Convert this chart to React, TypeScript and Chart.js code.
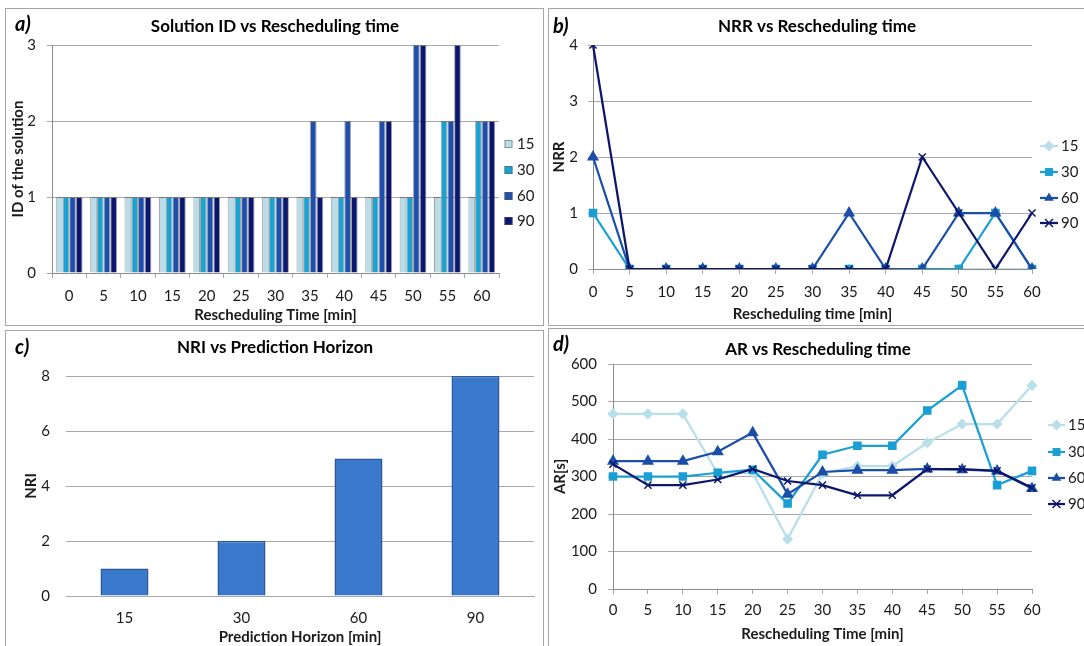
import React, { useEffect, useRef } from 'react';
import { Chart, registerables } from 'chart.js';
Chart.register(...registerables);

// ---------- data ----------
const timeLabels = ['0', '5', '10', '15', '20', '25', '30', '35', '40', '45', '50', '55', '60'];
const horizonLabels = ['15', '30', '60', '90'];

const solutionId15 = [1, 1, 1, 1, 1, 1, 1, 1, 1, 1, 1, 1, 1];
const solutionId30 = [1, 1, 1, 1, 1, 1, 1, 1, 1, 1, 1, 2, 2];
const solutionId60 = [1, 1, 1, 1, 1, 1, 1, 2, 2, 2, 3, 2, 2];
const solutionId90 = [1, 1, 1, 1, 1, 1, 1, 1, 1, 2, 3, 3, 2];

const nrr15 = [null, 0, 0, 0, 0, 0, 0, 0, 0, 0, 0, 0, 0];
const nrr30 = [1, 0, 0, 0, 0, 0, 0, 0, 0, 0, 0, 1, 0];
const nrr60 = [2, 0, 0, 0, 0, 0, 0, 1, 0, 0, 1, 1, 0];
const nrr90 = [4, 0, 0, 0, 0, 0, 0, 0, 0, 2, 1, 0, 1];

const nriValues = [1, 2, 5, 8];

const ar15 = [467, 467, 467, 308, 310, 133, 308, 328, 328, 390, 440, 440, 543];
const ar30 = [300, 300, 300, 310, 318, 228, 358, 382, 382, 476, 543, 277, 315];
const ar60 = [341, 341, 341, 366, 417, 253, 312, 317, 317, 320, 318, 315, 268];
const ar90 = [333, 277, 277, 292, 320, 288, 277, 250, 250, 320, 320, 315, 270];

// ---------- styles ----------
const FONT = 'Lato, "Open Sans", "DejaVu Sans", sans-serif';
const GRID = '#a8a8a8';
const AXIS = '#8a8a8a';
const TXT = '#1a1a1a';
const BAR_COL = ['#b8dde8', '#1aa2d2', '#1e4fae', '#0a1670'];
const LINE_COL = ['#b9dfea', '#1a9fd4', '#1b4ea8', '#0c176b'];
const MARKERS = ['rectRot', 'rect', 'triangle', 'crossRot'];

const tickFont = { family: FONT, size: 15 };
const axisTitleFont = { family: FONT, size: 15, weight: 'bold' as const };
const titleFont = { family: FONT, size: 17, weight: 'bold' as const };

function drawMarker(ctx: CanvasRenderingContext2D, style: string, x: number, y: number, r: number, color: string) {
  ctx.save();
  ctx.fillStyle = color;
  ctx.strokeStyle = color;
  ctx.lineWidth = 1.5;
  ctx.beginPath();
  if (style === 'rectRot') {
    ctx.moveTo(x, y - r); ctx.lineTo(x + r, y); ctx.lineTo(x, y + r); ctx.lineTo(x - r, y); ctx.closePath(); ctx.fill();
  } else if (style === 'rect') {
    const s = r * 0.72;
    ctx.rect(x - s, y - s, 2 * s, 2 * s); ctx.fill();
  } else if (style === 'triangle') {
    ctx.moveTo(x, y - r); ctx.lineTo(x + r * 0.87, y + r * 0.5); ctx.lineTo(x - r * 0.87, y + r * 0.5); ctx.closePath(); ctx.fill();
  } else {
    const s = r * 0.72;
    ctx.moveTo(x - s, y - s); ctx.lineTo(x + s, y + s); ctx.moveTo(x + s, y - s); ctx.lineTo(x - s, y + s); ctx.stroke();
  }
  ctx.restore();
}

type LegendCfg = {
  kind: 'box' | 'line';
  labels: string[];
  colors: string[];
  ys: number[];
  x0: number;
  x1: number;
  textX: number;
};

function makeLegend(cfg: LegendCfg) {
  return {
    id: 'panelLegend',
    afterDraw(chart: any) {
      const ctx: CanvasRenderingContext2D = chart.ctx;
      ctx.save();
      ctx.font = `15px ${FONT}`;
      ctx.textBaseline = 'middle';
      ctx.textAlign = 'left';
      cfg.labels.forEach((lab, i) => {
        const y = cfg.ys[i];
        if (cfg.kind === 'box') {
          ctx.fillStyle = cfg.colors[i];
          ctx.fillRect(cfg.x0, y - 4, 8, 8);
          ctx.strokeStyle = 'rgba(90,90,90,0.55)';
          ctx.lineWidth = 1;
          ctx.strokeRect(cfg.x0 + 0.5, y - 3.5, 7, 7);
        } else {
          ctx.strokeStyle = cfg.colors[i];
          ctx.lineWidth = 2.25;
          ctx.beginPath();
          ctx.moveTo(cfg.x0, y);
          ctx.lineTo(cfg.x1, y);
          ctx.stroke();
          drawMarker(ctx, MARKERS[i], (cfg.x0 + cfg.x1) / 2, y, 5.5, cfg.colors[i]);
        }
        ctx.fillStyle = TXT;
        ctx.fillText(lab, cfg.textX, y);
      });
      ctx.restore();
    },
  };
}

// centre the chart title on the whole panel (as in the spreadsheet figure)
function centerTitle(cx: number) {
  return {
    id: 'centerTitle',
    afterLayout(chart: any) {
      const tb = chart.titleBlock;
      if (!tb) return;
      const half = (tb.right - tb.left) / 2;
      tb.left = cx - half;
      tb.right = cx + half;
    },
  };
}

function fixY(width: number) {
  return (s: any) => { s.width = width; s.paddingTop = 0; s.paddingBottom = 0; };
}
function fixX(height: number) {
  return (s: any) => { s.height = height; s.paddingLeft = 0; s.paddingRight = 0; };
}

type PanelGeom = {
  W: number; H: number;
  pl: number; pr: number; pb: number;
  yw: number; xh: number;
  tTop: number; tBottom: number;
  xPad: number; yPad: number;
  titleX: number;
};

function baseOptions(g: PanelGeom, title: string) {
  return {
    responsive: false,
    maintainAspectRatio: false,
    animation: false as const,
    devicePixelRatio: 1,
    layout: { padding: { left: g.pl, right: g.pr, top: 0, bottom: g.pb } },
    plugins: {
      legend: { display: false },
      tooltip: { enabled: false },
      title: {
        display: true,
        text: title,
        color: '#000',
        font: titleFont,
        padding: { top: g.tTop, bottom: g.tBottom },
      },
    },
  };
}

function lineDatasets(series: (number | null)[][]) {
  return series.map((d, i) => ({
    label: horizonLabels[i],
    data: d,
    borderColor: LINE_COL[i],
    backgroundColor: LINE_COL[i],
    borderWidth: 2.25,
    pointStyle: MARKERS[i],
    pointRadius: i === 0 ? 4.5 : i === 1 ? 5 : i === 2 ? 5.5 : 5,
    pointBorderWidth: 1.5,
    pointBorderColor: LINE_COL[i],
    pointBackgroundColor: LINE_COL[i],
    tension: 0,
    order: 3 - i,
  }));
}

// ---------- chart builders ----------
function buildA(canvas: HTMLCanvasElement, g: PanelGeom) {
  const series = [solutionId15, solutionId30, solutionId60, solutionId90];
  return new Chart(canvas, {
    type: 'bar',
    data: {
      labels: timeLabels,
      datasets: series.map((d, i) => ({
        label: horizonLabels[i],
        data: d,
        backgroundColor: BAR_COL[i],
        borderColor: 'rgba(70,70,70,0.5)',
        borderWidth: 1,
        categoryPercentage: 0.78,
        barPercentage: 1.0,
      })),
    },
    options: {
      ...baseOptions(g, 'Solution ID vs Rescheduling time'),
      scales: {
        x: {
          grid: { display: true, drawOnChartArea: false, drawTicks: true, tickLength: 5, color: GRID, offset: true },
          border: { display: true, color: AXIS },
          ticks: { font: tickFont, color: TXT, padding: g.xPad, maxRotation: 0, autoSkip: false },
          title: { display: true, text: 'Rescheduling Time [min]', font: axisTitleFont, color: TXT, padding: 0 },
          afterFit: fixX(g.xh),
        },
        y: {
          min: 0, max: 3,
          grid: { color: GRID, drawTicks: true, tickLength: 5 },
          border: { display: true, color: AXIS },
          ticks: { stepSize: 1, font: tickFont, color: TXT, padding: g.yPad },
          title: { display: true, text: 'ID of the solution', font: axisTitleFont, color: TXT, padding: 0 },
          afterFit: fixY(g.yw),
        },
      },
    } as any,
    plugins: [centerTitle(g.titleX), makeLegend({
      kind: 'box', labels: horizonLabels, colors: BAR_COL,
      ys: [135, 161, 187, 212], x0: 498.5, x1: 506.5, textX: 511,
    })],
  });
}

function buildLine(canvas: HTMLCanvasElement, g: PanelGeom, opts: {
  series: (number | null)[][]; title: string; xTitle: string; yTitle: string;
  max: number; step: number; legendYs: number[]; lx0: number; lx1: number; ltx: number;
}) {
  return new Chart(canvas, {
    type: 'line',
    data: { labels: timeLabels, datasets: lineDatasets(opts.series) as any },
    options: {
      ...baseOptions(g, opts.title),
      scales: {
        x: {
          offset: false,
          grid: { display: true, drawOnChartArea: false, drawTicks: true, tickLength: 5, color: GRID },
          border: { display: true, color: AXIS },
          ticks: { font: tickFont, color: TXT, padding: g.xPad, maxRotation: 0, autoSkip: false },
          title: { display: true, text: opts.xTitle, font: axisTitleFont, color: TXT, padding: 0 },
          afterFit: fixX(g.xh),
        },
        y: {
          min: 0, max: opts.max,
          grid: { color: GRID, drawTicks: true, tickLength: 5 },
          border: { display: true, color: AXIS },
          ticks: { stepSize: opts.step, font: tickFont, color: TXT, padding: g.yPad },
          title: { display: true, text: opts.yTitle, font: axisTitleFont, color: TXT, padding: 0 },
          afterFit: fixY(g.yw),
        },
      },
    } as any,
    plugins: [centerTitle(g.titleX), makeLegend({
      kind: 'line', labels: horizonLabels, colors: LINE_COL,
      ys: opts.legendYs, x0: opts.lx0, x1: opts.lx1, textX: opts.ltx,
    })],
  });
}

function buildC(canvas: HTMLCanvasElement, g: PanelGeom) {
  return new Chart(canvas, {
    type: 'bar',
    data: {
      labels: horizonLabels,
      datasets: [{
        label: 'NRI',
        data: nriValues,
        backgroundColor: '#3a78cc',
        borderColor: '#2a5894',
        borderWidth: 1.5,
        categoryPercentage: 1,
        barPercentage: 0.41,
      }],
    },
    options: {
      ...baseOptions(g, 'NRI vs Prediction Horizon'),
      scales: {
        x: {
          grid: { display: false, drawTicks: false },
          border: { display: true, color: GRID },
          ticks: { font: tickFont, color: TXT, padding: g.xPad, maxRotation: 0 },
          title: { display: true, text: 'Prediction Horizon [min]', font: axisTitleFont, color: TXT, padding: 0 },
          afterFit: fixX(g.xh),
        },
        y: {
          min: 0, max: 8,
          grid: { color: GRID, drawTicks: false },
          border: { display: false },
          ticks: { stepSize: 2, font: tickFont, color: TXT, padding: g.yPad },
          title: { display: true, text: 'NRI', font: axisTitleFont, color: TXT, padding: 0 },
          afterFit: fixY(g.yw),
        },
      },
    } as any,
    plugins: [centerTitle(g.titleX)],
  });
}

// ---------- geometry (canvas coordinates) ----------
const geomA: PanelGeom = { W: 537, H: 316, pl: 3, pr: 44, pb: 1, yw: 43, xh: 51, tTop: 7.8, tBottom: 7.8, xPad: 9, yPad: 11, titleX: 269 };
const geomB: PanelGeom = { W: 535, H: 316, pl: 1, pr: 52, pb: 2, yw: 43, xh: 54, tTop: 7.8, tBottom: 7.8, xPad: 9, yPad: 10, titleX: 268 };
const geomC: PanelGeom = { W: 537, H: 315, pl: 16, pr: 9, pb: 0, yw: 44, xh: 50, tTop: 6.8, tBottom: 17.8, xPad: 13, yPad: 16, titleX: 269 };
const geomD: PanelGeom = { W: 535, H: 317, pl: 2, pr: 52, pb: 3, yw: 62, xh: 54, tTop: 10.8, tBottom: 3.8, xPad: 7, yPad: 11, titleX: 269 };

const panelStyle = (left: number, top: number, width: number, height: number): React.CSSProperties => ({
  position: 'absolute', left, top, width, height,
  border: '1px solid #a6a6a6', boxSizing: 'border-box', background: '#fff', overflow: 'hidden',
});

const labelStyle = (left: number, top: number): React.CSSProperties => ({
  position: 'absolute', left, top, font: `italic bold 20px ${FONT}`, color: '#000', lineHeight: '20px', zIndex: 2,
});

export default function App() {
  const a = useRef<HTMLCanvasElement>(null);
  const b = useRef<HTMLCanvasElement>(null);
  const c = useRef<HTMLCanvasElement>(null);
  const d = useRef<HTMLCanvasElement>(null);

  useEffect(() => {
    const charts: Chart[] = [];
    if (a.current) charts.push(buildA(a.current, geomA));
    if (b.current) charts.push(buildLine(b.current, geomB, {
      series: [nrr15, nrr30, nrr60, nrr90], title: 'NRR vs Rescheduling time',
      xTitle: 'Rescheduling time [min]', yTitle: 'NRR', max: 4, step: 1,
      legendYs: [137, 163, 189, 214], lx0: 491, lx1: 509, ltx: 512,
    }));
    if (c.current) charts.push(buildC(c.current, geomC));
    if (d.current) charts.push(buildLine(d.current, geomD, {
      series: [ar15, ar30, ar60, ar90], title: 'AR vs Rescheduling time',
      xTitle: 'Rescheduling Time [min]', yTitle: 'AR[s]', max: 600, step: 100,
      legendYs: [96, 123, 149, 175], lx0: 499, lx1: 516, ltx: 519,
    }));
    return () => charts.forEach((ch) => ch.destroy());
  }, []);

  const cv = (ref: React.RefObject<HTMLCanvasElement>, g: PanelGeom) => (
    <canvas ref={ref} width={g.W} height={g.H}
      style={{ position: 'absolute', left: 0, top: 0, width: g.W, height: g.H, display: 'block' }} />
  );

  return (
    <div style={{ position: 'fixed', left: 0, top: 0, width: 1084, height: 646, overflow: 'hidden', background: '#fff' }}>
      <div style={panelStyle(5, 8, 539, 318)}>
        {cv(a, geomA)}
        <div style={labelStyle(9, 4)}>a)</div>
      </div>
      <div style={panelStyle(548, 8, 560, 318)}>
        {cv(b, geomB)}
        <div style={labelStyle(4, 6)}>b)</div>
      </div>
      <div style={panelStyle(5, 330, 539, 330)}>
        {cv(c, geomC)}
        <div style={labelStyle(9, 5)}>c)</div>
      </div>
      <div style={panelStyle(548, 328, 560, 330)}>
        {cv(d, geomD)}
        <div style={labelStyle(4, 4)}>d)</div>
      </div>
    </div>
  );
}
